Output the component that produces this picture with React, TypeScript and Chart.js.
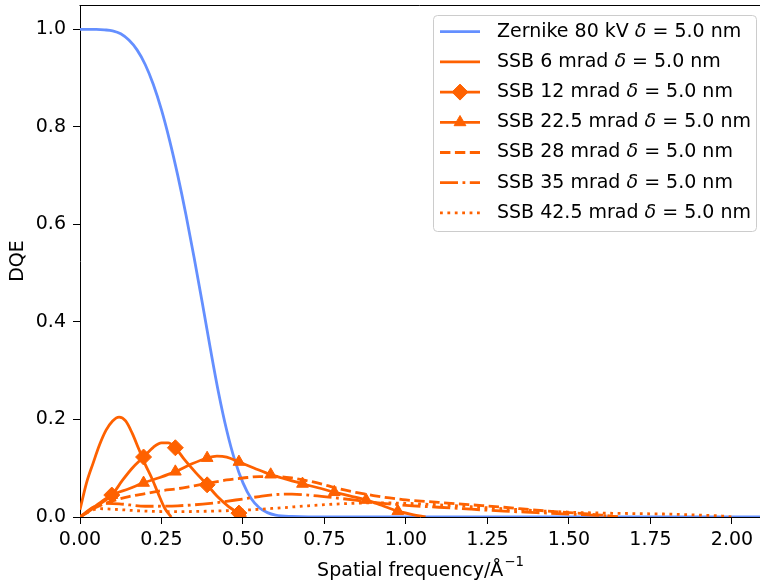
import React, { useEffect, useRef } from "react";
import { Chart, registerables } from "chart.js";

Chart.register(...registerables);

// ---------- data ----------
const X_TICKS = [0, 0.25, 0.5, 0.75, 1.0, 1.25, 1.5, 1.75, 2.0];
const Y_TICKS = [0, 0.2, 0.4, 0.6, 0.8, 1.0];
const X_MAX = 2.086;
const Y_MAX = 1.05;

const X_TITLE = "Spatial frequency/Å";
const X_TITLE_SUP = "−1";
const Y_TITLE = "DQE";

const LABELS = [
  "Zernike 80 kV δ = 5.0 nm",
  "SSB 6 mrad δ = 5.0 nm",
  "SSB 12 mrad δ = 5.0 nm",
  "SSB 22.5 mrad δ = 5.0 nm",
  "SSB 28 mrad δ = 5.0 nm",
  "SSB 35 mrad δ = 5.0 nm",
  "SSB 42.5 mrad δ = 5.0 nm",
];

// q positions where markers are drawn
const MARKER_Q = [0.0975, 0.195, 0.2925, 0.39, 0.4875, 0.585, 0.6825, 0.78, 0.8775, 0.975];

const ZERNIKE_Q = [0, 0.05, 0.075, 0.1, 0.125, 0.15, 0.175, 0.2, 0.225, 0.25, 0.275, 0.3, 0.325, 0.35, 0.375, 0.4, 0.425, 0.45, 0.475, 0.5, 0.525, 0.55, 0.575, 0.6, 0.65, 0.7, 0.8, 1.0, 1.5, 2.1];
const ZERNIKE_V = [1.0, 1.0, 0.999, 0.997, 0.991, 0.978, 0.958, 0.928, 0.887, 0.835, 0.772, 0.7, 0.62, 0.532, 0.44, 0.345, 0.255, 0.178, 0.116, 0.07, 0.038, 0.019, 0.009, 0.004, 0.001, 0, 0, 0, 0, 0];

const SSB6_Q = [0, 0.02, 0.04, 0.06, 0.08, 0.1, 0.12, 0.14, 0.16, 0.18, 0.2, 0.22, 0.24, 0.26, 0.28];
const SSB6_V = [0.015, 0.07, 0.11, 0.148, 0.178, 0.197, 0.205, 0.197, 0.172, 0.14, 0.108, 0.08, 0.048, 0.018, 0.0];

const SSB12_Q = [0, 0.05, 0.0975, 0.13, 0.16, 0.195, 0.225, 0.25, 0.27, 0.2925, 0.32, 0.355, 0.39, 0.42, 0.455, 0.4875, 0.51];
const SSB12_V = [0, 0.022, 0.045, 0.075, 0.1, 0.123, 0.143, 0.152, 0.152, 0.142, 0.118, 0.091, 0.066, 0.043, 0.022, 0.008, 0.0];

const SSB22_Q = [0, 0.05, 0.0975, 0.15, 0.195, 0.245, 0.2925, 0.34, 0.39, 0.42, 0.45, 0.4875, 0.535, 0.585, 0.635, 0.6825, 0.73, 0.78, 0.83, 0.8775, 0.925, 0.975, 1.02, 1.06];
const SSB22_V = [0, 0.024, 0.045, 0.058, 0.07, 0.081, 0.093, 0.108, 0.121, 0.125, 0.123, 0.113, 0.1, 0.087, 0.077, 0.068, 0.06, 0.051, 0.043, 0.035, 0.024, 0.012, 0.005, 0.0];

const SSB28_Q = [0, 0.05, 0.1, 0.15, 0.2, 0.25, 0.3, 0.35, 0.4, 0.45, 0.5, 0.55, 0.6, 0.65, 0.7, 0.75, 0.8, 0.85, 0.9, 0.95, 1.0, 1.1, 1.2, 1.3, 1.4, 1.5, 1.6, 1.65];
const SSB28_V = [0, 0.02, 0.033, 0.042, 0.048, 0.054, 0.058, 0.064, 0.07, 0.076, 0.08, 0.083, 0.083, 0.08, 0.074, 0.066, 0.057, 0.05, 0.044, 0.039, 0.035, 0.03, 0.025, 0.02, 0.014, 0.009, 0.004, 0.0];

const SSB35_Q = [0, 0.04, 0.08, 0.12, 0.2, 0.3, 0.4, 0.5, 0.55, 0.6, 0.65, 0.7, 0.8, 0.9, 1.0, 1.1, 1.2, 1.3, 1.4, 1.5, 1.6, 1.65];
const SSB35_V = [0, 0.02, 0.028, 0.027, 0.022, 0.023, 0.028, 0.037, 0.042, 0.046, 0.047, 0.045, 0.038, 0.03, 0.024, 0.02, 0.016, 0.012, 0.009, 0.006, 0.003, 0.0];

const SSB42_Q = [0, 0.03, 0.06, 0.1, 0.2, 0.3, 0.4, 0.5, 0.6, 0.7, 0.8, 0.9, 1.0, 1.1, 1.2, 1.3, 1.4, 1.5, 1.6, 1.7, 1.8, 1.9, 1.97, 2.0];
const SSB42_V = [0, 0.012, 0.017, 0.016, 0.012, 0.011, 0.012, 0.014, 0.018, 0.023, 0.027, 0.029, 0.028, 0.025, 0.021, 0.017, 0.013, 0.01, 0.008, 0.007, 0.006, 0.004, 0.002, 0.0];

// ---------- styles ----------
const BLUE = "#648FFF";
const ORANGE = "#FE6100";
const LW = 2.8;
const FONT = '"DejaVu Sans", sans-serif';
const FS = 19;

type Series = { q: number[]; v: number[]; color: string; dash: number[]; marker: null | "rectRot" | "triangle"; };

const SERIES: Series[] = [
  { q: ZERNIKE_Q, v: ZERNIKE_V, color: BLUE, dash: [], marker: null },
  { q: SSB6_Q, v: SSB6_V, color: ORANGE, dash: [], marker: null },
  { q: SSB12_Q, v: SSB12_V, color: ORANGE, dash: [], marker: "rectRot" },
  { q: SSB22_Q, v: SSB22_V, color: ORANGE, dash: [], marker: "triangle" },
  { q: SSB28_Q, v: SSB28_V, color: ORANGE, dash: [10.4, 4.5], marker: null },
  { q: SSB35_Q, v: SSB35_V, color: ORANGE, dash: [18, 4.5, 2.8, 4.5], marker: null },
  { q: SSB42_Q, v: SSB42_V, color: ORANGE, dash: [2.8, 4.6], marker: null },
];

const markerRadius = (m: Series["marker"]) => (m === "rectRot" ? 8 : m === "triangle" ? 6.8 : 0);
const isMarkerQ = (x: number) => MARKER_Q.some((m) => Math.abs(m - x) < 1e-6);

function drawMarker(ctx: CanvasRenderingContext2D, m: Series["marker"], x: number, y: number, color: string) {
  if (!m) return;
  const r = markerRadius(m);
  ctx.save();
  ctx.setLineDash([]);
  ctx.fillStyle = color;
  ctx.strokeStyle = color;
  ctx.lineWidth = 1;
  ctx.beginPath();
  if (m === "rectRot") {
    ctx.moveTo(x, y - r);
    ctx.lineTo(x + r, y);
    ctx.lineTo(x, y + r);
    ctx.lineTo(x - r, y);
  } else {
    for (let k = 0; k < 3; k++) {
      const a = (k * 2 * Math.PI) / 3;
      const px = x + Math.sin(a) * r;
      const py = y - Math.cos(a) * r;
      if (k === 0) ctx.moveTo(px, py);
      else ctx.lineTo(px, py);
    }
  }
  ctx.closePath();
  ctx.fill();
  ctx.stroke();
  ctx.restore();
}

const framePlugin = {
  id: "mplFrame",
  afterDraw(chart: any) {
    const { ctx, chartArea } = chart;
    ctx.save();
    ctx.strokeStyle = "#000";
    ctx.lineWidth = 1;
    ctx.beginPath();
    ctx.moveTo(chartArea.left - 0.5, chartArea.top + 0.5);
    ctx.lineTo(chartArea.right, chartArea.top + 0.5);
    ctx.stroke();

    // x-axis title with a true superscript
    const cx = (chartArea.left + chartArea.right) / 2;
    const cy = 571;
    ctx.fillStyle = "#000";
    ctx.textBaseline = "middle";
    ctx.textAlign = "left";
    ctx.font = `${FS}px ${FONT}`;
    const w1 = ctx.measureText(X_TITLE).width;
    ctx.font = `${FS * 0.7}px ${FONT}`;
    const w2 = ctx.measureText(X_TITLE_SUP).width;
    const start = cx - (w1 + w2) / 2;
    ctx.font = `${FS}px ${FONT}`;
    ctx.fillText(X_TITLE, start, cy);
    ctx.font = `${FS * 0.7}px ${FONT}`;
    ctx.fillText(X_TITLE_SUP, start + w1 + 1, cy - 8);
    ctx.restore();
  },
};

const legendPlugin = {
  id: "mplLegend",
  afterDraw(chart: any) {
    const ctx: CanvasRenderingContext2D = chart.ctx;
    const x0 = 433.5, y0 = 15.5, w = 323, h = 216, rad = 4;
    ctx.save();
    ctx.beginPath();
    ctx.moveTo(x0 + rad, y0);
    ctx.lineTo(x0 + w - rad, y0);
    ctx.arcTo(x0 + w, y0, x0 + w, y0 + rad, rad);
    ctx.lineTo(x0 + w, y0 + h - rad);
    ctx.arcTo(x0 + w, y0 + h, x0 + w - rad, y0 + h, rad);
    ctx.lineTo(x0 + rad, y0 + h);
    ctx.arcTo(x0, y0 + h, x0, y0 + h - rad, rad);
    ctx.lineTo(x0, y0 + rad);
    ctx.arcTo(x0, y0, x0 + rad, y0, rad);
    ctx.closePath();
    ctx.fillStyle = "rgba(255,255,255,0.8)";
    ctx.fill();
    ctx.strokeStyle = "#cccccc";
    ctx.lineWidth = 1;
    ctx.stroke();

    SERIES.forEach((s, i) => {
      const cy = 31.7 + i * 30.2;
      ctx.save();
      ctx.strokeStyle = s.color;
      ctx.lineWidth = LW;
      ctx.lineCap = "butt";
      ctx.setLineDash(s.dash);
      ctx.beginPath();
      ctx.moveTo(440, cy);
      ctx.lineTo(480, cy);
      ctx.stroke();
      ctx.restore();
      drawMarker(ctx, s.marker, 460, cy, s.color);

      const label = LABELS[i];
      const idx = label.indexOf("δ");
      const pre = label.slice(0, idx);
      const post = label.slice(idx + 1);
      ctx.fillStyle = "#000";
      ctx.textBaseline = "middle";
      ctx.textAlign = "left";
      let tx = 497;
      ctx.font = `${FS}px ${FONT}`;
      ctx.fillText(pre, tx, cy);
      tx += ctx.measureText(pre).width;
      ctx.font = `italic ${FS}px ${FONT}`;
      ctx.fillText("δ", tx, cy);
      tx += ctx.measureText("δ").width;
      ctx.font = `${FS}px ${FONT}`;
      ctx.fillText(post, tx, cy);
    });
    ctx.restore();
  },
};

export default function App() {
  const canvasRef = useRef<HTMLCanvasElement | null>(null);

  useEffect(() => {
    document.body.style.margin = "0";
    const canvas = canvasRef.current;
    if (!canvas) return;

    const datasets = SERIES.map((s, i) => ({
      label: LABELS[i],
      data: s.q.map((x, j) => ({ x, y: s.v[j] })),
      borderColor: s.color,
      backgroundColor: s.color,
      borderWidth: LW,
      borderDash: s.dash,
      borderCapStyle: "butt" as const,
      borderJoinStyle: "round" as const,
      cubicInterpolationMode: "monotone" as const,
      fill: false,
      clip: 0,
      order: SERIES.length - i,
      pointStyle: s.marker || "circle",
      pointRadius: s.q.map((x) => (s.marker && isMarkerQ(x) ? markerRadius(s.marker) : 0)),
      pointHoverRadius: 0,
      pointBackgroundColor: s.color,
      pointBorderColor: s.color,
      pointBorderWidth: 1,
    }));

    const tickFont = { family: FONT, size: FS };

    const chart = new Chart(canvas, {
      type: "line",
      data: { datasets },
      plugins: [framePlugin, legendPlugin],
      options: {
        animation: false,
        responsive: false,
        maintainAspectRatio: false,
        layout: { padding: { top: 5, right: 0, bottom: 0, left: 0 } },
        plugins: { legend: { display: false }, tooltip: { enabled: false } },
        events: [],
        scales: {
          x: {
            type: "linear",
            min: 0,
            max: X_MAX,
            afterBuildTicks: (s: any) => {
              s.ticks = X_TICKS.map((value) => ({ value }));
            },
            afterFit: (s: any) => {
              s.height = 66;
              s.paddingLeft = 0;
              s.paddingRight = 0;
            },
            ticks: {
              callback: (v: any) => Number(v).toFixed(2),
              font: tickFont,
              color: "#000",
              padding: 5,
              maxRotation: 0,
              autoSkip: false,
            },
            grid: { display: true, drawOnChartArea: false, drawTicks: true, tickLength: 7, tickColor: "#000", tickWidth: 1 },
            border: { display: true, color: "#000", width: 1 },
            title: { display: false },
          },
          y: {
            type: "linear",
            min: 0,
            max: Y_MAX,
            afterBuildTicks: (s: any) => {
              s.ticks = Y_TICKS.map((value) => ({ value }));
            },
            afterFit: (s: any) => {
              s.width = 80;
              s.paddingTop = 0;
              s.paddingBottom = 0;
            },
            ticks: {
              callback: (v: any) => Number(v).toFixed(1),
              font: tickFont,
              color: "#000",
              padding: 7,
              autoSkip: false,
            },
            grid: { display: true, drawOnChartArea: false, drawTicks: true, tickLength: 7, tickColor: "#000", tickWidth: 1 },
            border: { display: true, color: "#000", width: 1 },
            title: { display: true, text: Y_TITLE, font: tickFont, color: "#000", padding: { top: 7, bottom: 0 } },
          },
        },
      } as any,
    });

    return () => chart.destroy();
  }, []);

  return (
    <div style={{ width: 760, height: 583, position: "relative" }}>
      <canvas ref={canvasRef} width={760} height={583} style={{ display: "block" }} />
    </div>
  );
}
